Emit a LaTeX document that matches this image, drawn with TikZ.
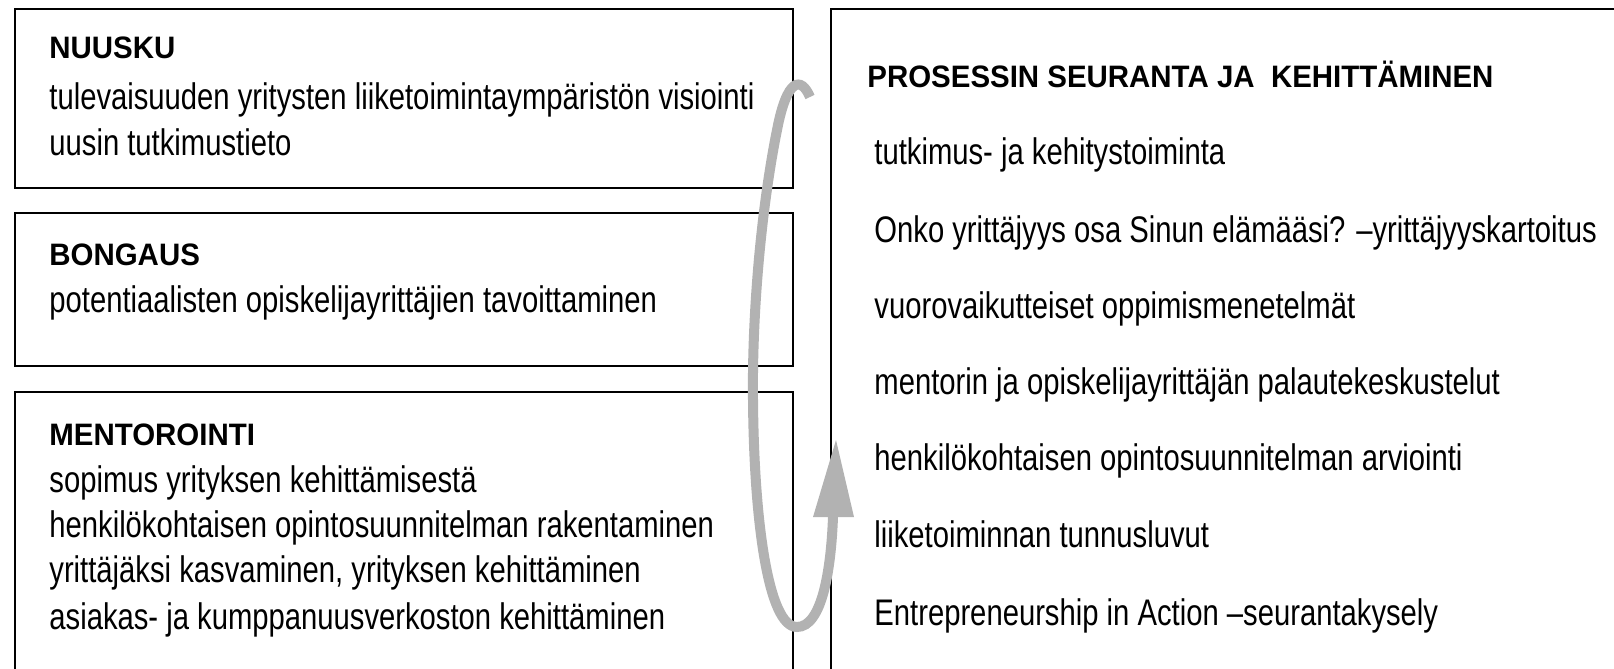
\documentclass[tikz,border=0pt]{standalone}
\usepackage{fontspec}
\setmainfont{Liberation Sans}
\newfontfamily\bodyfont[FakeStretch=0.79]{Liberation Sans}
\newfontfamily\headfont[FakeStretch=0.95]{Liberation Sans}
\usepackage{tikz}
\usetikzlibrary{positioning}
\definecolor{loopgray}{RGB}{178,178,178}
\tikzset{
	box/.style={draw=black, line width=1pt},
	head/.style={anchor=base west, inner sep=0pt, font=\headfont\bfseries\fontsize{15.5}{18}\selectfont},
	body/.style={anchor=base west, inner sep=0pt, font=\bodyfont\fontsize{18.5}{22}\selectfont},
	loop/.style={draw=loopgray, line width=5pt},
}

\begin{document}
\begin{tikzpicture}[x=0.5pt, y=-0.5pt]
					\useasboundingbox (0,0) rectangle (1614,669);

					%Boxes
					\draw[box] (15,9) rectangle (793,188);
					\draw[box] (15,213) rectangle (793,366);
					\draw[box] (15,669) -- (15,392) -- (793,392) -- (793,669);
					\draw[box] (831,669) -- (831,9) -- (1614,9);

					%Left texts
					\node[head] (nuusku) 	at (49,58) 	{NUUSKU};
					\node[body] (nuusku1) 	at (49,109) {tulevaisuuden yritysten liiketoimintaympäristön visiointi};
					\node[body] (nuusku2) 	at (49,155) {uusin tutkimustieto};

					\node[head] (bongaus) 	at (49,265) {BONGAUS};
					\node[body] (bongaus1) 	at (49,312) {potentiaalisten opiskelijayrittäjien tavoittaminen};

					\node[head] (mentor) 	at (49,445) {MENTOROINTI};
					\node[body] (mentor1) 	at (49,492) {sopimus yrityksen kehittämisestä};
					\node[body] (mentor2) 	at (49,537) {henkilökohtaisen opintosuunnitelman rakentaminen};
					\node[body] (mentor3) 	at (49,582) {yrittäjäksi kasvaminen, yrityksen kehittäminen};
					\node[body] (mentor4) 	at (49,629) {asiakas- ja kumppanuusverkoston kehittäminen};

					%Right texts
					\node[head] (seuranta) 	at (867,87) {PROSESSIN SEURANTA JA\ \ KEHITTÄMINEN};
					\node[body] (seur1) 	at (874,164) {tutkimus- ja kehitystoiminta};
					\node[body] (seur2) 	at (874,242) {Onko yrittäjyys osa Sinun elämääsi? –yrittäjyyskartoitus};
					\node[body] (seur3) 	at (874,318) {vuorovaikutteiset oppimismenetelmät};
					\node[body] (seur4) 	at (874,394) {mentorin ja opiskelijayrittäjän palautekeskustelut};
					\node[body] (seur5) 	at (874,470) {henkilökohtaisen opintosuunnitelman arviointi};
					\node[body] (seur6) 	at (874,547) {liiketoiminnan tunnusluvut};
					\node[body] (seur7) 	at (874,625) {Entrepreneurship in Action –seurantakysely};

					%Loop
					\coordinate (tail) 	at (810,97);
					\coordinate (west) 	at (753,400);
					\coordinate (south) at (797,627);
					\coordinate (base) 	at (833,517);
					\coordinate (tip) 	at (836,440);
					\draw[loop] (tail) .. controls (801,76) and (787,78) .. (777,130)
						.. controls (760,215) and (752,320) .. (west)
						.. controls (754,520) and (768,627) .. (south)
						.. controls (822,627) and (831,570) .. (base);
					\fill[loopgray] (813,517) -- (854,517) -- (tip) -- cycle;

\end{tikzpicture}
\end{document}
